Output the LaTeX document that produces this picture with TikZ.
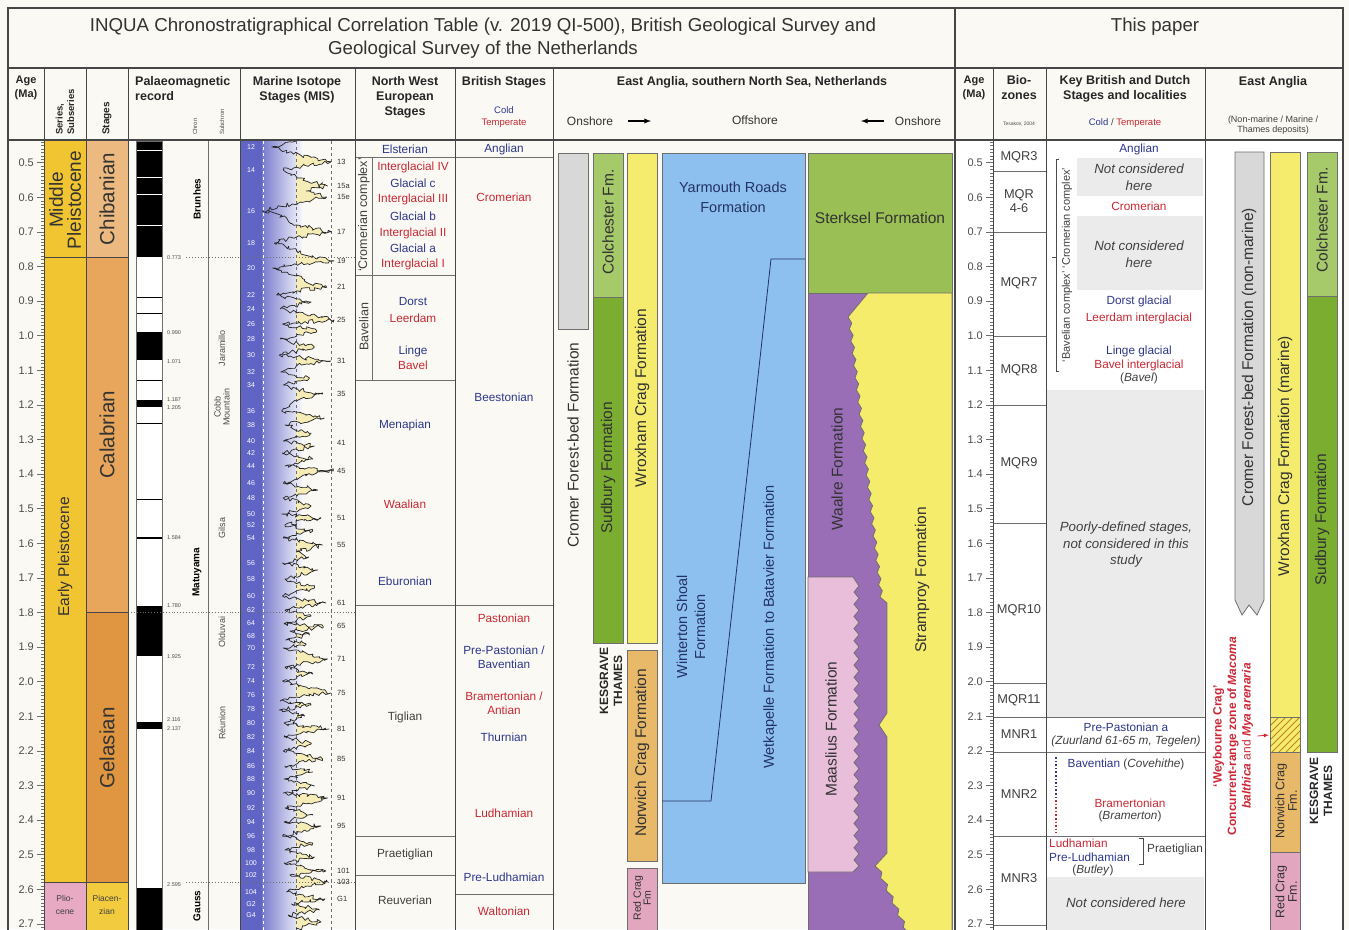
\documentclass[tikz,border=0pt]{standalone}
\usepackage{fontspec}
\setmainfont{Liberation Sans}
\usetikzlibrary{arrows}
\usetikzlibrary{decorations.pathmorphing}
\tikzset{>=latex}

% colours of the table
\definecolor{paper}{RGB}{251,249,243}
\definecolor{framegray}{RGB}{70,70,70}
\definecolor{linegray}{RGB}{110,110,110}
\definecolor{pleisto}{RGB}{241,196,50}
\definecolor{chiban}{RGB}{236,186,128}
\definecolor{calab}{RGB}{232,166,92}
\definecolor{gelas}{RGB}{224,149,64}
\definecolor{plio}{RGB}{232,170,194}
\definecolor{piacen}{RGB}{242,203,63}
\definecolor{coldblue}{RGB}{45,55,140}
\definecolor{warmred}{RGB}{200,40,52}
\definecolor{misblue}{RGB}{96,100,196}
\definecolor{misyellow}{RGB}{246,236,184}
\definecolor{cromergray}{RGB}{216,216,216}
\definecolor{colchgreen}{RGB}{166,201,106}
\definecolor{sudgreen}{RGB}{122,173,48}
\definecolor{wroxyellow}{RGB}{245,236,110}
\definecolor{norwichorange}{RGB}{233,185,106}
\definecolor{redcragpink}{RGB}{226,166,190}
\definecolor{yarmblue}{RGB}{141,192,238}
\definecolor{sterkgreen}{RGB}{154,191,85}
\definecolor{waalpurple}{RGB}{154,109,183}
\definecolor{maaspink}{RGB}{232,190,219}
\definecolor{strampyellow}{RGB}{245,236,108}
\definecolor{keygray}{RGB}{235,235,235}
\definecolor{fmtext}{RGB}{50,50,50}
\definecolor{navytext}{RGB}{35,50,100}
\definecolor{hatchbrown}{RGB}{190,130,30}
\definecolor{weyred}{RGB}{205,40,55}

% isotope curve (pixel coordinates, age runs downwards)
\newcommand{\misline}{(300,141) -- (270,147) -- (305,155) -- (342,162) -- (300,167) -- (284,170) -- (305,178) -- (338,186) -- (312,191) -- (337,197) -- (295,204) -- (258,211) -- (288,218) -- (300,225) -- (343,232) -- (300,237) -- (273,243) -- (300,250) -- (315,256) -- (346,261) -- (295,265) -- (271,268) -- (300,275) -- (310,281) -- (337,287) -- (300,291) -- (276,295) -- (318,302) -- (280,309) -- (310,314) -- (346,320) -- (283,324) -- (325,331) -- (280,339) -- (322,347) -- (279,355) -- (342,361) -- (300,366) -- (281,372) -- (316,378) -- (284,385) -- (305,390) -- (332,394) -- (300,401) -- (282,411) -- (334,418) -- (286,425) -- (318,433) -- (284,441) -- (322,446) -- (283,453) -- (320,459) -- (286,466) -- (345,471) -- (305,477) -- (284,483) -- (326,490) -- (284,498) -- (318,506) -- (282,514) -- (330,518) -- (286,525) -- (320,531) -- (284,538) -- (332,545) -- (300,552) -- (315,557) -- (283,563) -- (326,570) -- (286,579) -- (322,588) -- (283,596) -- (336,603) -- (286,610) -- (318,616) -- (285,623) -- (333,627) -- (292,631) -- (316,635) -- (287,640) -- (312,644) -- (284,648) -- (338,659) -- (286,667) -- (320,674) -- (283,681) -- (342,693) -- (300,697) -- (280,701) -- (318,705) -- (279,710) -- (310,716) -- (285,723) -- (340,729) -- (285,737) -- (318,744) -- (284,751) -- (332,759) -- (286,766) -- (320,772) -- (285,779) -- (322,786) -- (284,793) -- (338,798) -- (286,808) -- (320,815) -- (285,822) -- (330,826) -- (283,836) -- (320,843) -- (286,850) -- (322,857) -- (285,863) -- (336,871) -- (292,875) -- (338,882) -- (288,892) -- (335,899) -- (294,904) -- (328,910) -- (290,915) -- (330,922) -- (300,929)}

\tikzset{%
  every node/.style={inner sep=1pt},
  frameline/.style={draw=framegray, line width=1.3pt},
  colline/.style={draw=framegray, line width=0.9pt},
  thinline/.style={draw=linegray, line width=0.6pt},
  agetick/.style={draw=linegray, line width=0.5pt},
  boxline/.style={draw=linegray, line width=0.8pt},
  misjitter/.style={decorate, decoration={random steps, segment length=2.6pt, amplitude=2.2pt}},
  hdrtxt/.style={font=\fontsize{12.5}{15}\selectfont\bfseries, text=black!85, align=center},
  hdrsmall/.style={font=\fontsize{9.5}{11}\selectfont, text=black!75, align=center},
  agetxt/.style={font=\fontsize{11}{13}\selectfont, text=black!70, anchor=east},
  coldtxt/.style={font=\fontsize{11.8}{14}\selectfont, text=coldblue, align=center},
  warmtxt/.style={font=\fontsize{11.8}{14}\selectfont, text=warmred, align=center},
  plaintxt/.style={font=\fontsize{11.8}{14}\selectfont, text=black!75, align=center},
  notetxt/.style={font=\fontsize{13.3}{16.5}\selectfont\itshape, text=black!75, align=center},
  sidetxt/.style={font=\fontsize{12.5}{14}\selectfont, text=black!75, rotate=90},
  fmtxt/.style={font=\fontsize{15.5}{17}\selectfont, text=fmtext, rotate=90, align=center},
  fmflat/.style={font=\fontsize{15.5}{17}\selectfont, text=fmtext, align=center},
  bluefm/.style={font=\fontsize{14.5}{20}\selectfont, text=navytext, align=center},
  groupname/.style={font=\fontsize{12}{14}\selectfont\bfseries, text=black!85, rotate=90, align=center},
  bigstage/.style={font=\fontsize{20.5}{20}\selectfont, text=black!80, rotate=90, align=center},
  chrontxt/.style={font=\fontsize{10}{12}\selectfont\bfseries, rotate=90},
  subchrontxt/.style={font=\fontsize{9}{10}\selectfont, text=black!70, rotate=90, align=center},
  paleotxt/.style={font=\fontsize{5.5}{6}\selectfont, text=black!70, anchor=west},
  misodd/.style={font=\fontsize{7.5}{8}\selectfont, text=black!80, anchor=west},
  miseven/.style={font=\fontsize{7}{8}\selectfont, text=white},
  zonetxt/.style={font=\fontsize{12.8}{14.5}\selectfont, text=black!75, align=center},
}

\begin{document}
\begin{tikzpicture}[x=1pt,y=-1pt]
  \useasboundingbox (0,0) rectangle (1349,929);

  % paper
  \fill[paper] (0,0) rectangle (1349,929);
  \fill[white] (956,141) rectangle (1343,929);

  % series and stages
  \fill[pleisto] (44,141) rectangle (86,882.4);
  \fill[plio] (44,882.4) rectangle (86,935);
  \fill[chiban] (86,141) rectangle (128,257.2);
  \fill[calab] (86,257.2) rectangle (128,612.5);
  \fill[gelas] (86,612.5) rectangle (128,882.4);
  \fill[piacen] (86,882.4) rectangle (128,935);
  \draw[colline] (44,257.2) -- (128,257.2);
  \draw[colline] (86,612.5) -- (128,612.5);
  \draw[colline] (44,882.4) -- (128,882.4);
  \node[bigstage, font=\fontsize{19}{18}\selectfont] (midPleist) at (65,200) {Middle\\Pleistocene};
  \node[bigstage, font=\fontsize{15.5}{17}\selectfont] (earlyPleist) at (65,557) {Early Pleistocene};
  \node[plaintxt, font=\fontsize{8.5}{13}\selectfont] (pliocene) at (65,905) {Plio-\\cene};
  \node[bigstage] (chibanian) at (107,199) {Chibanian};
  \node[bigstage] (calabrian) at (107,435) {Calabrian};
  \node[bigstage] (gelasian) at (107,748) {Gelasian};
  \node[plaintxt, font=\fontsize{8.5}{13}\selectfont] (piacenzian) at (107,905) {Piacen-\\zian};

  % polarity bar
  \fill[white] (136,141) rectangle (162,935);
  \fill[black] (136,141) rectangle (162,257.2);
  \foreach \yy in {150,177,194,225} \draw[white, line width=1pt] (136,\yy) -- (162,\yy);
  \fill[black] (136,332.2) rectangle (162,360.3);
  \fill[black] (136,400.4) rectangle (162,406.6);
  \fill[black] (136,605.6) rectangle (162,655.8);
  \fill[black] (136,721.8) rectangle (162,729.1);
  \fill[black] (136,887.6) rectangle (162,935);
  \foreach \yy in {297,313,380,423,499} \draw[black, line width=0.7pt] (136,\yy) -- (162,\yy);
  \draw[black, line width=1.8pt] (136,537.8) -- (162,537.8);
  \draw[thinline] (136,141) rectangle (162,935);
  \draw[thinline] (208,140) -- (208,935);

  % reversal ages
  \foreach \yy/\t in {257.2/0.773, 332.2/0.990, 361.3/1.071, 399.4/1.187, 407.6/1.205, 537.8/1.584, 605.6/1.780, 656.8/1.925, 719.8/2.116, 728.1/2.137, 884.4/2.595}
    \node[paleotxt] (rev\t) at (166,\yy) {\t};

  % chrons and subchrons
  \node[chrontxt] (brunhes) at (197,199) {Brunhes};
  \node[chrontxt] (matuyama) at (197,572) {Matuyama};
  \node[chrontxt] (gauss) at (197,906) {Gauss};
  \node[subchrontxt] (jaramillo) at (222,348) {Jaramillo};
  \node[subchrontxt, font=\fontsize{9}{9}\selectfont] (cobb) at (222,407) {Cobb\\Mountain};
  \node[subchrontxt] (gilsa) at (222,528) {Gilsa};
  \node[subchrontxt] (olduvai) at (222,632) {Olduvai};
  \node[subchrontxt] (reunion) at (222,723) {Réunion};

  % marine isotope stages
  \fill[misblue] (241,141) rectangle (262,935);
  \shade[left color=misblue!85, right color=misblue!6] (262,141) rectangle (302,935);
  \begin{scope}
    \clip (296,141) rectangle (354,935);
    \begin{scope}[shift={(51,0)}, xscale=0.818]
      \pgfmathsetseed{11}
      \fill[misyellow, misjitter] \misline -- (296,935) -- (296,141) -- cycle;
    \end{scope}
  \end{scope}
  \draw[white, dashed, line width=0.6pt] (263,141) -- (263,935);
  \draw[linegray, dashed, line width=0.5pt] (296,141) -- (296,935);
  \draw[linegray, dashed, line width=0.5pt] (331,141) -- (331,935);
  \begin{scope}[shift={(51,0)}, xscale=0.818]
    \pgfmathsetseed{11}
    \draw[black!85, line width=0.7pt, line join=round, misjitter] \misline;
  \end{scope}
  \foreach \n/\yy in {12/147, 14/170, 16/211, 18/243, 20/268, 22/295, 24/309, 26/324, 28/339, 30/355, 32/372, 34/385, 36/411, 38/425, 40/441, 42/453, 44/466, 46/483, 48/498, 50/514, 52/525, 54/538, 56/563, 58/579, 60/596, 62/610, 64/623, 68/636, 70/648, 72/667, 74/681, 76/695, 78/709, 80/723, 82/737, 84/751, 86/766, 88/779, 90/793, 92/808, 94/822, 96/836, 98/850, 100/863, 102/875, 104/892, G2/904, G4/915}
    \node[miseven] (misE\n) at (251,\yy) {\n};
  \foreach \n/\yy in {13/162, 15a/186, 15e/197, 17/232, 19/261, 21/287, 25/320, 31/361, 35/394, 41/443, 45/471, 51/518, 55/545, 61/603, 65/626, 71/659, 75/693, 81/729, 85/759, 91/798, 95/826, 101/871, 103/882, G1/899}
    \node[misodd] (misO\n) at (336,\yy) {\n};

  % dotted time lines
  \draw[linegray, dotted, line width=0.9pt] (186,257.2) -- (355,257.2);
  \draw[linegray, dotted, line width=0.9pt] (128,612.5) -- (355,612.5);
  \draw[linegray, dotted, line width=0.9pt] (186,882.4) -- (355,882.4);

  % north west european stages
  \draw[thinline] (355,157) -- (553,157);
  \draw[thinline] (372,157) -- (372,380);
  \draw[thinline] (355,275) -- (455,275);
  \draw[thinline] (355,380) -- (455,380);
  \draw[thinline] (355,605) -- (553,605);
  \draw[thinline] (355,836) -- (455,836);
  \draw[thinline] (355,875) -- (455,875);
  \draw[thinline] (455,894) -- (553,894);
  \node[coldtxt] (elsterian) at (405,149) {Elsterian};
  \node[sidetxt] (cromComplex) at (364,215) {`Cromerian complex'};
  \node[warmtxt] (igIV) at (413,167) {Interglacial IV};
  \node[coldtxt] (glC) at (413,183) {Glacial c};
  \node[warmtxt] (igIII) at (413,199) {Interglacial III};
  \node[coldtxt] (glB) at (413,216) {Glacial b};
  \node[warmtxt] (igII) at (413,233) {Interglacial II};
  \node[coldtxt] (glA) at (413,248) {Glacial a};
  \node[warmtxt] (igI) at (413,264) {Interglacial I};
  \node[sidetxt] (bavelian) at (364,327) {Bavelian};
  \node[coldtxt] (dorst) at (413,301) {Dorst};
  \node[warmtxt] (leerdam) at (413,318) {Leerdam};
  \node[coldtxt] (linge) at (413,351) {Linge};
  \node[warmtxt] (bavel) at (413,365) {Bavel};
  \node[coldtxt] (menapian) at (405,425) {Menapian};
  \node[warmtxt] (waalian) at (405,504) {Waalian};
  \node[coldtxt] (eburonian) at (405,581) {Eburonian};
  \node[plaintxt] (tiglian) at (405,717) {Tiglian};
  \node[plaintxt] (praetiglian) at (405,854) {Praetiglian};
  \node[plaintxt] (reuverian) at (405,900) {Reuverian};

  % british stages
  \node[coldtxt] (anglian) at (504,149) {Anglian};
  \node[warmtxt] (cromerian) at (504,197) {Cromerian};
  \node[coldtxt] (beestonian) at (504,397) {Beestonian};
  \node[warmtxt] (pastonian) at (504,618) {Pastonian};
  \node[coldtxt] (prePast) at (504,657) {Pre-Pastonian /\\Baventian};
  \node[warmtxt] (bramert) at (504,703) {Bramertonian /\\Antian};
  \node[coldtxt] (thurnian) at (504,737) {Thurnian};
  \node[warmtxt] (ludhamian) at (504,813) {Ludhamian};
  \node[coldtxt] (preLud) at (504,877) {Pre-Ludhamian};
  \node[warmtxt] (waltonian) at (504,911) {Waltonian};

  % east anglia, southern north sea, netherlands
  \filldraw[boxline, fill=cromergray] (558,153) rectangle (588,329);
  \filldraw[boxline, fill=colchgreen] (593,153) rectangle (623,297);
  \filldraw[boxline, fill=sudgreen] (593,297) rectangle (623,643);
  \filldraw[boxline, fill=wroxyellow] (627,153) rectangle (657,643);
  \filldraw[boxline, fill=norwichorange] (627,650) rectangle (657,861);
  \filldraw[boxline, fill=redcragpink] (627,868) rectangle (657,940);
  \filldraw[boxline, fill=yarmblue] (662,153) rectangle (805,883);
  \draw[navytext, line width=0.8pt] (805,259) -- (771,259) -- (711,801) -- (662,801);
  \filldraw[boxline, fill=sterkgreen] (808,153) rectangle (952,293);
  \filldraw[boxline, fill=waalpurple] (808,293) rectangle (952,940);
  \filldraw[boxline, fill=strampyellow] (868,293) -- (952,293) -- (952,940) -- (909,940)
    \foreach \k in {1,...,12} { -- ({909-34*\k/12+4*mod(\k,2)},{940-74*\k/12}) }
    -- (887,853) -- (887,737) -- (879,725) -- (887,713) -- (887,603) -- (880,597)
    \foreach \k in {1,...,46} { -- ({880-32*\k/46+3*mod(\k,2)},{597-280*\k/46}) }
    -- cycle;
  \filldraw[boxline, fill=maaspink] (808,577) -- (853,577) -- (859,586)
    \foreach \k in {1,...,46} { -- ({859-5*mod(\k,2)},{586+280*\k/46}) }
    -- (853,872) -- (808,872) -- cycle;
  \node[fmtxt] (cromerL) at (573,445) {Cromer Forest-bed Formation};
  \node[fmtxt] (colchL) at (608,222) {Colchester Fm.};
  \node[fmtxt] (sudburyL) at (608,468) {Sudbury Formation};
  \node[fmtxt] (wroxL) at (642,398) {Wroxham Crag Formation};
  \node[groupname] (kesgL) at (611,681) {KESGRAVE\\THAMES};
  \node[fmtxt] (norwichL) at (642,753) {Norwich Crag Formation};
  \node[fmtxt, font=\fontsize{10.5}{10}\selectfont] (redcragL) at (642,898) {Red Crag\\Fm};
  \node[bluefm] (yarmouth) at (733,197) {Yarmouth Roads\\Formation};
  \node[bluefm, rotate=90, font=\fontsize{14.5}{18}\selectfont] (winterton) at (691,627) {Winterton Shoal\\Formation};
  \node[bluefm, rotate=90] (wetkapelle) at (770,627) {Wetkapelle Formation to Batavier Formation};
  \node[fmflat] (sterksel) at (880,218) {Sterksel Formation};
  \node[fmtxt] (waalre) at (837,469) {Waalre Formation};
  \node[fmtxt] (maaslius) at (831,729) {Maaslius Formation};
  \node[fmtxt] (stramproy) at (922,580) {Stramproy Formation};

  % age scale, left
  \foreach \i in {44,...,271}
    \draw[agetick] (41,{-10.3+3.46*\i}) -- (44,{-10.3+3.46*\i});
  \foreach \i in {5,...,27} {
    \pgfmathsetmacro{\yy}{-10.3+34.6*\i}
    \pgfmathtruncatemacro{\ip}{\i/10}
    \pgfmathtruncatemacro{\fp}{\i-10*\ip}
    \draw[agetick] (37,\yy) -- (44,\yy);
    \node[agetxt] (ageL\i) at (35,\yy) {\ip.\fp};
  }

  % age scale, right
  \foreach \i in {44,...,271}
    \draw[agetick] (990,{-10.3+3.46*\i}) -- (993,{-10.3+3.46*\i});
  \foreach \i in {5,...,27} {
    \pgfmathsetmacro{\yy}{-10.3+34.6*\i}
    \pgfmathtruncatemacro{\ip}{\i/10}
    \pgfmathtruncatemacro{\fp}{\i-10*\ip}
    \draw[agetick] (986,\yy) -- (993,\yy);
    \node[agetxt] (ageR\i) at (984,\yy) {\ip.\fp};
  }

  % biozones
  \foreach \yy in {171,232,336,405,523,683,717,752,836,925}
    \draw[thinline] (993,\yy) -- (1046,\yy);
  \node[zonetxt] (mqr3) at (1019,157) {MQR3};
  \node[zonetxt] (mqr46) at (1019,201) {MQR\\4-6};
  \node[zonetxt] (mqr7) at (1019,283) {MQR7};
  \node[zonetxt] (mqr8) at (1019,370) {MQR8};
  \node[zonetxt] (mqr9) at (1019,463) {MQR9};
  \node[zonetxt] (mqr10) at (1019,610) {MQR10};
  \node[zonetxt] (mqr11) at (1019,700) {MQR11};
  \node[zonetxt] (mnr1) at (1019,734) {MNR1};
  \node[zonetxt] (mnr2) at (1019,794) {MNR2};
  \node[zonetxt] (mnr3) at (1019,878) {MNR3};

  % key british and dutch stages
  \fill[keygray] (1077,158) rectangle (1203,196);
  \fill[keygray] (1077,216) rectangle (1203,290);
  \fill[keygray] (1047,390) rectangle (1204,717);
  \fill[keygray] (1047,877) rectangle (1204,935);
  \draw[thinline] (1046,717) -- (1205,717);
  \draw[thinline] (1046,752) -- (1205,752);
  \draw[thinline] (1046,836) -- (1205,836);
  \draw[black!70, line width=0.7pt] (1059,159) -- (1056,159) -- (1056,371) -- (1059,371);
  \draw[black!70, line width=0.7pt] (1056,257) -- (1052,257);
  \node[sidetxt, font=\fontsize{11}{13}\selectfont] (complexes) at (1067,265) {`Bavelian complex' `Cromerian complex'};
  \node[coldtxt] (keyAnglian) at (1139,149) {Anglian};
  \node[notetxt] (keyNot1) at (1139,177) {Not considered\\here};
  \node[warmtxt] (keyCromerian) at (1139,206) {Cromerian};
  \node[notetxt] (keyNot2) at (1139,254) {Not considered\\here};
  \node[coldtxt] (keyDorst) at (1139,301) {Dorst glacial};
  \node[warmtxt] (keyLeerdam) at (1139,318) {Leerdam interglacial};
  \node[coldtxt] (keyLinge) at (1139,351) {Linge glacial};
  \node[warmtxt] (keyBavel) at (1139,365) {Bavel interglacial};
  \node[plaintxt] (keyBavelSite) at (1139,378) {(\textit{Bavel})};
  \node[notetxt] (keyPoorly) at (1126,545) {Poorly-defined stages,\\not considered in this\\study};
  \node[coldtxt] (keyPrePast) at (1126,727) {Pre-Pastonian a};
  \node[plaintxt] (keyZuurland) at (1126,741) {\textit{(Zuurland 61-65 m, Tegelen)}};
  \node[coldtxt] (keyBaventian) at (1126,764) {Baventian \textcolor{black!75}{(\textit{Covehithe})}};
  \node[warmtxt] (keyBramert) at (1130,803) {Bramertonian};
  \node[plaintxt] (keyBramerton) at (1130,816) {(\textit{Bramerton})};
  \draw[coldblue, dotted, line width=1.6pt] (1056,757) -- (1056,800);
  \draw[warmred, dotted, line width=1.6pt] (1056,800) -- (1056,833);
  \node[warmtxt, anchor=west] (keyLud) at (1048,843) {Ludhamian};
  \node[coldtxt, anchor=west] (keyPreLud) at (1048,857) {Pre-Ludhamian};
  \node[plaintxt] (keyButley) at (1093,870) {(\textit{Butley})};
  \draw[black!70, line width=0.7pt] (1139,838) -- (1143,838) -- (1143,864) -- (1139,864);
  \node[plaintxt] (keyPraet) at (1175,849) {Praetiglian};
  \node[notetxt] (keyNot3) at (1126,903) {Not considered here};

  % east anglia, this paper
  \filldraw[boxline, fill=cromergray] (1235,152) -- (1264,152) -- (1264,600) -- (1257,615) -- (1249,605) -- (1242,615) -- (1235,600) -- cycle;
  \filldraw[boxline, fill=wroxyellow] (1270,152) rectangle (1300,717);
  \filldraw[boxline, fill=wroxyellow] (1270,717) rectangle (1300,752);
  \begin{scope}
    \clip (1270,717) rectangle (1300,752);
    \foreach \xx in {1230,1237,...,1300} \draw[hatchbrown, line width=0.9pt] (\xx,752) -- ++(35,-35);
  \end{scope}
  \draw[boxline] (1270,717) rectangle (1300,752);
  \filldraw[boxline, fill=norwichorange] (1270,752) rectangle (1300,852);
  \filldraw[boxline, fill=redcragpink] (1270,852) rectangle (1300,940);
  \filldraw[boxline, fill=colchgreen] (1307,152) rectangle (1337,296);
  \filldraw[boxline, fill=sudgreen] (1307,296) rectangle (1337,752);
  \node[fmtxt, font=\fontsize{15.5}{17}\selectfont] (cromerR) at (1249,357) {Cromer Forest-bed Formation (non-marine)};
  \node[fmtxt] (wroxR) at (1285,456) {Wroxham Crag Formation (marine)};
  \node[fmtxt, font=\fontsize{12.5}{12.5}\selectfont] (norwichR) at (1286,801) {Norwich Crag\\Fm.};
  \node[fmtxt, font=\fontsize{12.5}{12.5}\selectfont] (redcragR) at (1286,892) {Red Crag\\Fm.};
  \node[fmtxt] (colchR) at (1322,220) {Colchester Fm.};
  \node[fmtxt] (sudburyR) at (1322,520) {Sudbury Formation};
  \node[groupname] (kesgR) at (1321,791) {KESGRAVE\\THAMES};
  \node[rotate=90, align=center, text=weyred, font=\fontsize{12}{14.5}\selectfont\bfseries] (weyNote) at (1233,736)
    {`Weybourne Crag'\\Concurrent-range zone of \textit{Macoma}\\\textit{balthica} {\mdseries and} \textit{Mya arenaria}};
  \coordinate (weyHatch) at (1269,735);
  \draw[->, weyred, line width=0.8pt] ([xshift=3pt]weyNote.south) -- (weyHatch);

  % frame and column rules
  \draw[frameline] (8,940) -- (8,8) -- (1343,8) -- (1343,940);
  \draw[frameline] (8,68) -- (1343,68);
  \draw[frameline] (8,140) -- (1343,140);
  \foreach \xx in {44,86,128,240,355,455,553,993,1046,1205}
    \draw[colline] (\xx,68) -- (\xx,940);
  \draw[framegray, line width=2.6pt] (955,8) -- (955,940);

  % title row
  \node[font=\fontsize{18.7}{23}\selectfont, text=black!80, align=center] (titleL) at (483,38)
    {INQUA Chronostratigraphical Correlation Table (v. 2019 QI-500), British Geological Survey and\\Geological Survey of the Netherlands};
  \node[font=\fontsize{18.7}{22}\selectfont, text=black!80] (titleR) at (1155,27) {This paper};

  % header row
  \node[hdrtxt, font=\fontsize{11}{14}\selectfont\bfseries] (hAgeL) at (26,88) {Age\\(Ma)};
  \node[hdrtxt, font=\fontsize{9.5}{11.5}\selectfont\bfseries, rotate=90, anchor=west, align=left] (hSeries) at (65,136) {Series,\\Subseries};
  \node[hdrtxt, font=\fontsize{10}{12}\selectfont\bfseries, rotate=90, anchor=west] (hStages) at (107,136) {Stages};
  \node[hdrtxt, anchor=north west, align=left] (hPalaeo) at (134,75) {Palaeomagnetic\\record};
  \node[font=\fontsize{6}{7}\selectfont, text=black!70, rotate=90, anchor=west] (hChron) at (195,136) {Chron};
  \node[font=\fontsize{6}{7}\selectfont, text=black!70, rotate=90, anchor=west] (hSubchron) at (222,136) {Subchron};
  \node[hdrtxt] (hMIS) at (297,90) {Marine Isotope\\Stages (MIS)};
  \node[hdrtxt] (hNWE) at (405,97) {North West\\European\\Stages};
  \node[hdrtxt] (hBritish) at (504,82) {British Stages};
  \node[hdrsmall, text=coldblue] (hCold) at (504,110) {Cold};
  \node[hdrsmall, text=warmred] (hTemp) at (504,123) {Temperate};
  \node[hdrtxt] (hEastAnglia) at (752,82) {East Anglia, southern North Sea, Netherlands};
  \node[font=\fontsize{12}{14}\selectfont, text=black!80] (onL) at (590,121) {Onshore};
  \node[font=\fontsize{12}{14}\selectfont, text=black!80] (offS) at (755,120) {Offshore};
  \node[font=\fontsize{12}{14}\selectfont, text=black!80] (onR) at (918,121) {Onshore};
  \coordinate (arrLs) at (628,121);
  \coordinate (arrLe) at (651,121);
  \coordinate (arrRs) at (884,121);
  \coordinate (arrRe) at (861,121);
  \draw[->, line width=1.3pt] (arrLs) -- (arrLe);
  \draw[->, line width=1.3pt] (arrRs) -- (arrRe);
  \node[hdrtxt, font=\fontsize{11}{14}\selectfont\bfseries] (hAgeR) at (974,88) {Age\\(Ma)};
  \node[hdrtxt] (hZones) at (1019,88) {Bio-\\zones};
  \node[font=\fontsize{5}{6}\selectfont, text=black!70] (hTesakov) at (1019,124) {Tesakov, 2004};
  \node[hdrtxt] (hKey) at (1125,89) {Key British and Dutch\\Stages and localities};
  \node[hdrsmall] (hKeyCold) at (1125,123) {\textcolor{coldblue}{Cold} / \textcolor{warmred}{Temperate}};
  \node[hdrtxt] (hEAR) at (1273,82) {East Anglia};
  \node[hdrsmall, font=\fontsize{9}{10.5}\selectfont] (hEARsub) at (1273,125) {(Non-marine / Marine /\\Thames deposits)};
\end{tikzpicture}
\end{document}
